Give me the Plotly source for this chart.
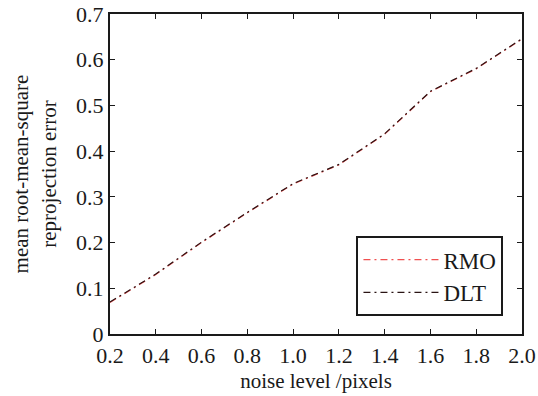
import plotly.graph_objects as go

noise = [0.2, 0.4, 0.6, 0.8, 1.0, 1.2, 1.4, 1.6, 1.8, 2.0]
rmo = [0.069, 0.13, 0.2, 0.265, 0.328, 0.37, 0.437, 0.53, 0.58, 0.645]
dlt = [0.070, 0.131, 0.201, 0.266, 0.329, 0.371, 0.438, 0.531, 0.581, 0.646]

xticks = [0.2, 0.4, 0.6, 0.8, 1.0, 1.2, 1.4, 1.6, 1.8, 2.0]
xticklabels = ["0.2", "0.4", "0.6", "0.8", "1.0", "1.2", "1.4", "1.6", "1.8", "2.0"]
yticks = [0, 0.1, 0.2, 0.3, 0.4, 0.5, 0.6, 0.7]
yticklabels = ["0", "0.1", "0.2", "0.3", "0.4", "0.5", "0.6", "0.7"]

FONT = "Liberation Serif"
dash = "7px,4px,2px,4px"

fig = go.Figure()
fig.add_trace(go.Scatter(x=noise, y=rmo, mode="lines", name="RMO",
                         line=dict(color="#f05050", width=1.2, dash=dash)))
fig.add_trace(go.Scatter(x=noise, y=dlt, mode="lines", name="DLT",
                         line=dict(color="#2a1414", width=1.2, dash=dash)))

axis_common = dict(showline=True, mirror="ticks", linecolor="#1a1a1a", linewidth=2,
                   ticks="inside", ticklen=5, tickcolor="#1a1a1a", tickwidth=1,
                   showgrid=False, zeroline=False, automargin=False,
                   tickfont=dict(family=FONT, size=22, color="#1a1a1a"))

fig.update_xaxes(range=[0.2, 2.0], tickvals=xticks, ticktext=xticklabels, ticklabelstandoff=1,
                 title=dict(text="noise level /pixels", font=dict(family=FONT, size=21, color="#1a1a1a"), standoff=6),
                 **axis_common)
fig.update_yaxes(range=[0, 0.7], tickvals=yticks, ticktext=yticklabels,
                 title=dict(text="mean root-mean-square<br>reprojection error",
                            font=dict(family=FONT, size=21, color="#1a1a1a"), standoff=14),
                 **axis_common)

fig.update_layout(
    width=538, height=396,
    margin=dict(l=110, r=16, t=14, b=62),
    paper_bgcolor="white", plot_bgcolor="white",
    font=dict(family=FONT, color="#1a1a1a"),
    legend=dict(x=0.955, y=0.056, xanchor="right", yanchor="bottom",
                bgcolor="white", bordercolor="#1a1a1a", borderwidth=2,
                font=dict(family=FONT, size=23, color="#1a1a1a"),
                itemwidth=75, tracegroupgap=0),
)

fig.write_html("out.html")
